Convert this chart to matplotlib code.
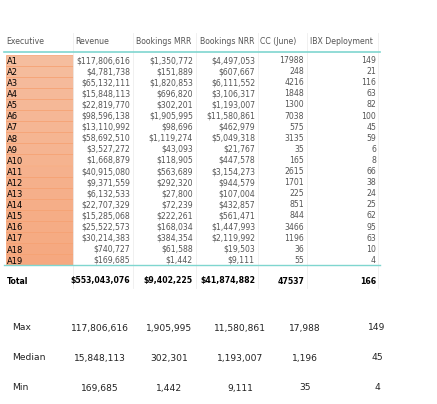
import matplotlib
matplotlib.use("Agg")
import matplotlib.pyplot as plt
from matplotlib.patches import Rectangle

executives = [f"A{i}" for i in range(1, 20)]
revenue = [117806616, 4781738, 65132111, 15848113, 22819770, 98596138, 13110992, 58692510, 3527272,
           1668879, 40915080, 9371559, 6132533, 22707329, 15285068, 25522573, 30214383, 740727, 169685]
mrr = [1350772, 151889, 1820853, 696820, 302201, 1905995, 98696, 1119274, 43093,
       118905, 563689, 292320, 27800, 72239, 222261, 168034, 384354, 61588, 1442]
nrr = [4497053, 607667, 6111552, 3106317, 1193007, 11580861, 462979, 5049318, 21767,
       447578, 3154273, 944579, 107004, 432857, 561471, 1447993, 2119992, 19503, 9111]
cc = [17988, 248, 4216, 1848, 1300, 7038, 575, 3135, 35, 165, 2615, 1701, 225, 851, 844, 3466, 1196, 36, 55]
ibx = [149, 21, 116, 63, 82, 100, 45, 59, 6, 8, 66, 38, 24, 25, 62, 95, 63, 10, 4]
headers = ["Executive", "Revenue", "Bookings MRR", "Bookings NRR", "CC (June)", "IBX Deployment"]
totals = ["$553,043,076", "$9,402,225", "$41,874,882", "47537", "166"]
stat_names = ["Max", "Median", "Min"]
stat_vals = [["117,806,616", "1,905,995", "11,580,861", "17,988", "149"],
             ["15,848,113", "302,301", "1,193,007", "1,196", "45"],
             ["169,685", "1,442", "9,111", "35", "4"]]

fig = plt.figure(figsize=(4.37, 4.04), dpi=100)
ax = fig.add_axes([0, 0, 1, 1])
ax.set_xlim(0, 437); ax.set_ylim(404, 0); ax.axis("off")

hdr_x = [6, 75, 136, 200, 260, 310]
right_x = [130, 193, 255, 304, 376]
seps = [73, 133, 196, 258, 307, 378]
fs = 5.6
tc = "#555555"
for x, h in zip(hdr_x, headers):
    ax.text(x, 41, h, fontsize=fs, color=tc, va="center", ha="left")
for s in seps:
    ax.plot([s, s], [33, 288], color="#eeeeee", lw=0.6)
ax.plot([4, 380], [52, 52], color="#7fd6cf", lw=1.2)

top = 54.5; rh = 11.1
for i, e in enumerate(executives):
    y0 = top + i * rh
    yc = y0 + rh / 2 + 0.5
    t = i / 18
    col = (0.96, 0.74 - 0.08 * t, 0.62 - 0.12 * t)
    ax.add_patch(Rectangle((6, y0), 67, rh, facecolor=col, edgecolor="#f5a070", lw=0.5))
    ax.text(7, yc + 0.8, e, fontsize=6, color="black", va="center", ha="left")
    vals = [f"${revenue[i]:,}", f"${mrr[i]:,}", f"${nrr[i]:,}", str(cc[i]), str(ibx[i])]
    for x, v in zip(right_x, vals):
        ax.text(x, yc, v, fontsize=fs, color=tc, va="center", ha="right")
ybot = top + 19 * rh
ax.plot([4, 380], [ybot, ybot], color="#7fd6cf", lw=1.0)
ax.text(7, 281, "Total", fontsize=fs, color="black", weight="bold", va="center", ha="left")
for x, v in zip(right_x, totals):
    ax.text(x, 281, v, fontsize=fs, color="black", weight="bold", va="center", ha="right")

stat_x = [100, 169, 240, 305, 377]
for j, (n, vals) in enumerate(zip(stat_names, stat_vals)):
    y = 328 + j * 30
    ax.text(12, y, n, fontsize=6.6, color="#222222", va="center", ha="left")
    for x, v in zip(stat_x, vals):
        ax.text(x, y, v, fontsize=6.6, color="#222222", va="center", ha="center")

fig.savefig("out.png", dpi=100)
